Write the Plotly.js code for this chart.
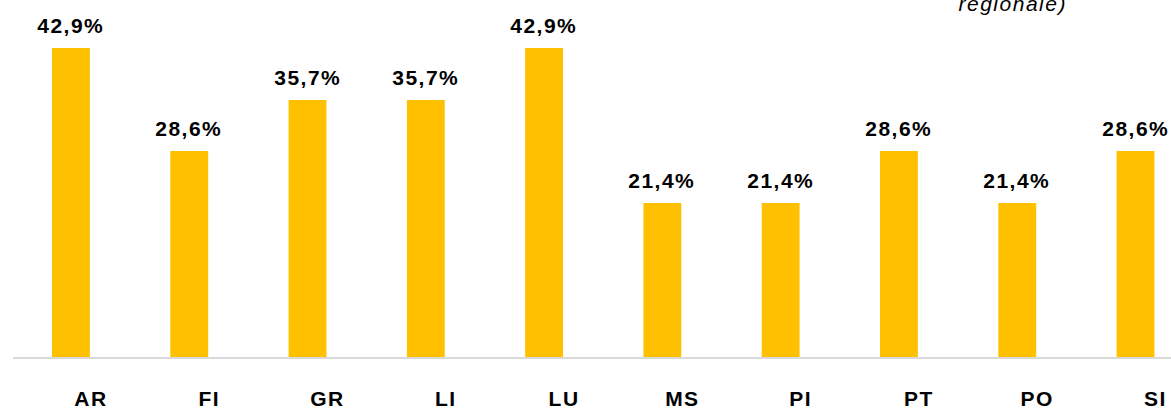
<!DOCTYPE html>
<html>
<head>
<meta charset="utf-8">
<script src="https://cdn.plot.ly/plotly-3.0.1.min.js"></script>
<style>
    body { margin: 0; background: #fff; }
    #chart { width: 1171px; height: 410px; }
    #chart text { letter-spacing: 1.5px; }
</style>
</head>
<body>
<div id="chart"></div>
<script>
var categories = ['AR', 'FI', 'GR', 'LI', 'LU', 'MS', 'PI', 'PT', 'PO', 'SI'];
var shares = [42.9, 28.6, 35.7, 35.7, 42.9, 21.4, 21.4, 28.6, 21.4, 28.6];
var shareLabels = ['42,9%', '28,6%', '35,7%', '35,7%', '42,9%', '21,4%', '21,4%', '28,6%', '21,4%', '28,6%'];
var titleTail = 'regionale)';

var barTrace = {
    x: categories,
    y: shares,
    type: 'bar',
    width: 0.32,
    marker: {color: '#FFC000'},
    hoverinfo: 'none'
};

// value labels sit a bit higher than plotly's own outside text would
var labelNotes = [];
for (let i = 0; i < categories.length; i++) {
    labelNotes.push({
        x: categories[i],
        y: shares[i],
        text: shareLabels[i],
        showarrow: false,
        yanchor: 'bottom',
        yshift: 9,
        font: {family: 'Liberation Sans, Arial, sans-serif', size: 21, color: '#000', weight: 'bold'}
    });
}

labelNotes.push({
    xref: 'paper',
    yref: 'paper',
    x: 0.905,
    y: 1,
    yanchor: 'bottom',
    yshift: 16,
    showarrow: false,
    text: titleTail,
    font: {family: 'Liberation Sans, Arial, sans-serif', size: 21, color: '#000', style: 'italic'}
});

var layout = {
    width: 1171,
    height: 410,
    margin: {l: 13, r: 0, t: 33, b: 53},
    paper_bgcolor: '#fff',
    plot_bgcolor: '#fff',
    showlegend: false,
    xaxis: {
        type: 'category',
        range: [-0.49, 9.3],
        showline: true,
        linecolor: '#d9d9d9',
        linewidth: 1.5,
        showgrid: false,
        ticks: '',
        ticklabelstandoff: 22,
        ticklabelshift: 20,
        tickfont: {family: 'Liberation Sans, Arial, sans-serif', size: 21, color: '#000', weight: 'bold'}
    },
    yaxis: {
        range: [0, 45],
        visible: false,
        showgrid: false,
        zeroline: false
    },
    annotations: labelNotes
};

Plotly.newPlot('chart', [barTrace], layout, {displayModeBar: false, staticPlot: true});
</script>
</body>
</html>
